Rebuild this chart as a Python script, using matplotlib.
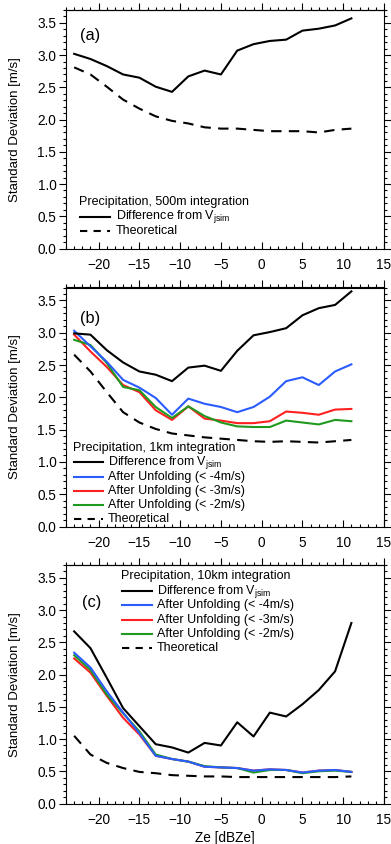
import matplotlib
matplotlib.use("Agg")
import matplotlib.pyplot as plt
from matplotlib.ticker import MultipleLocator, FormatStrFormatter
from matplotlib.lines import Line2D

plt.rcParams['font.family'] = ['Liberation Sans', 'DejaVu Sans']
plt.rcParams['mathtext.fontset'] = 'custom'
plt.rcParams['mathtext.rm'] = 'Liberation Sans'

ze = [-23, -21, -19, -17, -15, -13, -11, -9, -7, -5, -3, -1, 1, 3, 5, 7, 9, 11]

# Panel (a): 500m integration
a_diff = [3.02, 2.94, 2.83, 2.70, 2.65, 2.51, 2.43, 2.67, 2.76, 2.70, 3.07, 3.17, 3.22, 3.24, 3.38, 3.41, 3.46, 3.57]
a_theo = [2.81, 2.70, 2.51, 2.31, 2.17, 2.05, 1.98, 1.94, 1.88, 1.86, 1.86, 1.84, 1.82, 1.82, 1.82, 1.80, 1.84, 1.86]

# Panel (b): 1km integration
b_diff = [2.99, 2.97, 2.73, 2.54, 2.40, 2.35, 2.25, 2.46, 2.49, 2.41, 2.72, 2.96, 3.01, 3.07, 3.27, 3.38, 3.43, 3.64]
b_u4 = [3.03, 2.79, 2.55, 2.27, 2.15, 1.99, 1.73, 1.98, 1.90, 1.85, 1.77, 1.85, 2.01, 2.25, 2.31, 2.19, 2.40, 2.51]
b_u3 = [2.97, 2.71, 2.47, 2.19, 2.08, 1.80, 1.65, 1.86, 1.67, 1.64, 1.60, 1.60, 1.63, 1.78, 1.76, 1.73, 1.81, 1.82]
b_u2 = [2.89, 2.81, 2.53, 2.16, 2.11, 1.85, 1.68, 1.86, 1.71, 1.61, 1.55, 1.54, 1.54, 1.64, 1.61, 1.58, 1.65, 1.63]
b_theo = [2.66, 2.40, 2.08, 1.77, 1.61, 1.51, 1.44, 1.41, 1.38, 1.36, 1.34, 1.32, 1.31, 1.32, 1.31, 1.30, 1.32, 1.34]

# Panel (c): 10km integration
c_diff = [2.67, 2.41, 1.95, 1.48, 1.20, 0.92, 0.87, 0.79, 0.94, 0.90, 1.26, 1.04, 1.41, 1.35, 1.54, 1.76, 2.05, 2.80]
c_u4 = [2.34, 2.11, 1.74, 1.41, 1.09, 0.74, 0.69, 0.65, 0.57, 0.56, 0.55, 0.51, 0.53, 0.52, 0.48, 0.51, 0.52, 0.49]
c_u3 = [2.25, 2.03, 1.67, 1.33, 1.07, 0.74, 0.69, 0.65, 0.57, 0.56, 0.55, 0.51, 0.53, 0.52, 0.48, 0.51, 0.52, 0.49]
c_u2 = [2.30, 2.07, 1.69, 1.40, 1.12, 0.76, 0.69, 0.65, 0.58, 0.56, 0.55, 0.48, 0.52, 0.52, 0.47, 0.50, 0.51, 0.49]
c_theo = [1.05, 0.76, 0.63, 0.55, 0.49, 0.47, 0.44, 0.43, 0.42, 0.42, 0.41, 0.41, 0.41, 0.41, 0.41, 0.41, 0.41, 0.42]

panel_labels = ['(a)', '(b)', '(c)']
legend_titles = ['Precipitation, 500m integration',
                 'Precipitation, 1km integration',
                 'Precipitation, 10km integration']
lab_diff = r'Difference from V$_\mathregular{jsim}$'
lab_u4 = 'After Unfolding (< -4m/s)'
lab_u3 = 'After Unfolding (< -3m/s)'
lab_u2 = 'After Unfolding (< -2m/s)'
lab_theo = 'Theoretical'

BLUE = '#2a5cff'
RED = '#ff2020'
GREEN = '#1f9a1f'
FS = 9.8
LFS = 9.0
DASH = (0, (5, 3.5))
LW = 1.5

W, H = 391, 844
fig = plt.figure(figsize=(W / 100, H / 100), dpi=100)

def add_ax(top_px, bottom_px):
    return fig.add_axes([66 / W, (H - bottom_px) / H, 318 / W, (bottom_px - top_px) / H])

axes = [add_ax(10, 248.5), add_ax(287.5, 526.5), add_ax(565, 803.5)]

for i, ax in enumerate(axes):
    ax.set_xlim(-24, 15)
    ax.set_ylim(0, 3.7)
    ax.xaxis.set_major_locator(MultipleLocator(5))
    ax.xaxis.set_minor_locator(MultipleLocator(1))
    ax.yaxis.set_major_locator(MultipleLocator(0.5))
    ax.yaxis.set_minor_locator(MultipleLocator(0.1))
    ax.yaxis.set_major_formatter(FormatStrFormatter('%.1f'))
    ax.tick_params(axis='both', which='both', labelsize=FS, width=0.8)
    ax.tick_params(axis='x', which='major', direction='in', length=5, top=False, pad=7)
    ax.tick_params(axis='x', which='minor', direction='in', length=2.5, top=False)
    ax.tick_params(axis='y', which='major', direction='out', length=5, right=True, pad=2)
    ax.tick_params(axis='y', which='minor', direction='out', length=2.5, right=True)
    sec = ax.secondary_xaxis('top')
    sec.xaxis.set_major_locator(MultipleLocator(5))
    sec.xaxis.set_minor_locator(MultipleLocator(1))
    sec.tick_params(axis='x', which='major', direction='out', length=5, width=0.8, labeltop=False)
    sec.tick_params(axis='x', which='minor', direction='out', length=2.5, width=0.8)
    for s in ax.spines.values():
        s.set_linewidth(0.8)
    sec.spines['top'].set_linewidth(0.8)
    ax.set_ylabel('Standard Deviation [m/s]', fontsize=9.5)
    ax.yaxis.set_label_coords((21 - 66) / 318, 0.5)

# Panel (a)
ax = axes[0]
ax.plot(ze, a_diff, color='black', lw=LW)
ax.plot(ze, a_theo, color='black', lw=LW, ls=DASH)

# Panel (b)
ax = axes[1]
ax.plot(ze, b_diff, color='black', lw=LW, zorder=3)
ax.plot(ze, b_u3, color=RED, lw=LW, zorder=2)
ax.plot(ze, b_u2, color=GREEN, lw=LW, zorder=2.1)
ax.plot(ze, b_u4, color=BLUE, lw=LW, zorder=2.2)
ax.plot(ze, b_theo, color='black', lw=LW, ls=DASH)

# Panel (c)
ax = axes[2]
ax.plot(ze, c_diff, color='black', lw=LW, zorder=3)
ax.plot(ze, c_u3, color=RED, lw=LW, zorder=2)
ax.plot(ze, c_u2, color=GREEN, lw=LW, zorder=2.1)
ax.plot(ze, c_u4, color=BLUE, lw=LW, zorder=2.2)
ax.plot(ze, c_theo, color='black', lw=LW, ls=DASH)

axes[2].set_xlabel('Ze [dBZe]', fontsize=FS, labelpad=3)

label_pos = [(80, 35.5), (80, 318.5), (82, 603)]
for lab, (px, py) in zip(panel_labels, label_pos):
    fig.text(px / W, 1 - py / H, lab, fontsize=11.8, ha='left', va='center')

# Legends (drawn as key lines + text)
def fx(px):
    return px / W

def fy(py):
    return 1 - py / H

def draw_legend(title, tx, ty, x0, x1, xt, rows, entries):
    fig.text(fx(tx), fy(ty), title, fontsize=LFS, ha='left', va='center')
    for y, (label, color, ls) in zip(rows, entries):
        fig.add_artist(Line2D([fx(x0), fx(x1)], [fy(y), fy(y)], transform=fig.transFigure,
                              color=color, lw=LW, ls=ls))
        fig.text(fx(xt), fy(y), label, fontsize=LFS, ha='left', va='center')

ent_a = [(lab_diff, 'black', '-'), (lab_theo, 'black', (0, (3.5, 3)))]
ent_bc = [(lab_diff, 'black', '-'), (lab_u4, BLUE, '-'), (lab_u3, RED, '-'),
          (lab_u2, GREEN, '-'), (lab_theo, 'black', (0, (3.5, 3)))]

draw_legend(legend_titles[0], 79, 202.5, 80, 110, 116, [217, 231.5], ent_a)
draw_legend(legend_titles[1], 73, 448, 74, 103, 108,
            [462.5 + 14.2 * k for k in range(5)], ent_bc)
draw_legend(legend_titles[2], 121, 576, 122, 152, 157,
            [591 + 14.3 * k for k in range(5)], ent_bc)

fig.savefig('out.png', dpi=100)
